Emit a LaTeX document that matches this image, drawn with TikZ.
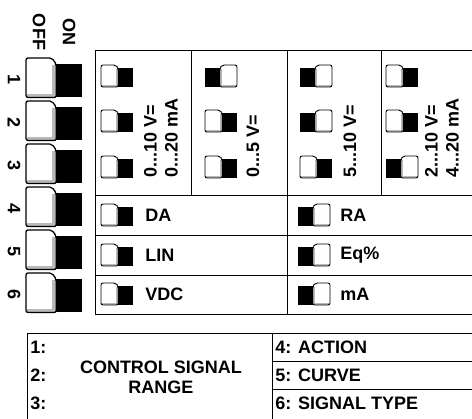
\documentclass[tikz,border=0pt]{standalone}
\usepackage{fontspec}
\setmainfont{Liberation Sans}
\begin{document}
\begin{tikzpicture}[x=1pt,y=-1pt,line width=0.9pt,
  lbl/.style={inner sep=0pt,font=\bfseries\fontsize{18}{18}\selectfont},
  vlbl/.style={lbl,rotate=90,anchor=west,align=left,font=\bfseries\fontsize{18}{18}\selectfont},
  numlbl/.style={lbl,rotate=-90},
  dip/.pic={
    \fill[white,rounded corners=2pt] (0,1) -- (0,0) -- (0.46,0) -- (0.54,0.15) -- (0.54,1) -- cycle;
    \fill[gray!55] (0.02,0.9) rectangle (0.54,0.98);
    \fill[gray!55] (0.47,0.17) rectangle (0.53,0.98);
    \draw[rounded corners=2pt] (0,1) -- (0,0) -- (0.46,0) -- (0.54,0.15) -- (0.54,1) -- cycle;
    \fill[black] (0.54,0.15) rectangle (1,1);
  }]
\useasboundingbox (0,0) rectangle (472,419);
\node[numlbl] (off) at (39,32) {OFF};
\node[numlbl] (on) at (69,32) {ON};
\foreach \i in {1,...,6}{
  \pic[xscale=56,yscale=39.5,line width=1.3pt] at (26,{58+43*(\i-1)}) {dip};
  \node[numlbl] (n\i) at (14,{80+43*(\i-1)}) {\i};
}
\draw (472,50) -- (95,50) -- (95,314) -- (472,314);
\draw (95,195) -- (472,195);
\draw (95,235) -- (472,235);
\draw (95,275) -- (472,275);
\draw (191,50) -- (191,195);
\draw (287,50) -- (287,314);
\draw (381,50) -- (381,195);
\foreach \y in {65,110,156}{
  \pic[xscale=32,yscale=22] at (101,\y) {dip};
}
\pic[xscale=-32,yscale=22] at (237,65) {dip};
\pic[xscale=32,yscale=22] at (205,110) {dip};
\pic[xscale=32,yscale=22] at (205,156) {dip};
\pic[xscale=-32,yscale=22] at (332,65) {dip};
\pic[xscale=-32,yscale=22] at (332,110) {dip};
\pic[xscale=32,yscale=22] at (300,156) {dip};
\pic[xscale=32,yscale=22] at (386,65) {dip};
\pic[xscale=32,yscale=22] at (386,110) {dip};
\pic[xscale=-32,yscale=22] at (418,156) {dip};
\node[vlbl] (r1) at (161,178) {0...10 V=\\[3pt]0...20 mA};
\node[vlbl] (r2) at (253,178) {0...5 V=};
\node[vlbl] (r3) at (350,178) {5...10 V=};
\node[vlbl] (r4) at (442,178) {2...10 V=\\[3pt]4...20 mA};
\foreach \y/\t in {215/DA,255/LIN,294/VDC}{
  \pic[xscale=32,yscale=22] at (101,{\y-11}) {dip};
  \node[lbl,anchor=west] at (145,\y) {\t};
}
\foreach \y/\t in {215/RA,255/Eq\%,294/mA}{
  \pic[xscale=-32,yscale=22] at (330,{\y-11}) {dip};
  \node[lbl,anchor=west] at (340,\y) {\t};
}
\draw (472,333) -- (27,333) -- (27,425);
\draw (272,333) -- (272,425);
\draw (272,361) -- (472,361);
\draw (272,389) -- (472,389);
\node[lbl,anchor=west] (k1) at (30,347) {1:};
\node[lbl,anchor=west] (k2) at (30,375) {2:};
\node[lbl,anchor=west] (k3) at (30,403) {3:};
\node[lbl,align=center] (csr) at (161,377) {CONTROL SIGNAL\\[2pt]RANGE};
\node[lbl,anchor=west] (act) at (275,347) {4: ACTION};
\node[lbl,anchor=west] (crv) at (275,375) {5: CURVE};
\node[lbl,anchor=west] (sig) at (275,403) {6: SIGNAL TYPE};
\end{tikzpicture}
\end{document}
